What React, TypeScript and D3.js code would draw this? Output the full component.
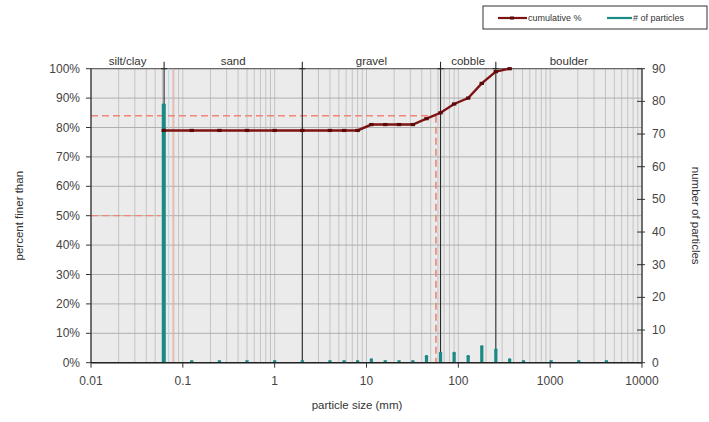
import React from 'react';
import * as d3 from 'd3';

const sieveSizes = [0.062, 0.125, 0.25, 0.5, 1, 2, 4, 5.7, 8, 11.3, 16, 22.6, 32, 45, 64, 90, 128, 180, 256, 362, 512, 1024, 2048, 4096];
const particleCounts = [79, 0, 0, 0, 0, 0, 0, 0, 0, 1, 0, 0, 0, 2, 3, 3, 2, 5, 4, 1, 0, 0, 0, 0];
const cumSizes = [0.062, 0.125, 0.25, 0.5, 1, 2, 4, 5.7, 8, 11.3, 16, 22.6, 32, 45, 64, 90, 128, 180, 256, 362];
const cumulativePct = [79, 79, 79, 79, 79, 79, 79, 79, 79, 81, 81, 81, 81, 83, 85, 88, 90, 95, 99, 100];
const classNames = ['silt/clay', 'sand', 'gravel', 'cobble', 'boulder'];
const classBounds = [0.01, 0.0625, 2, 64, 256, 10000];
const xTicks = [0.01, 0.1, 1, 10, 100, 1000, 10000];
const xTickLabels = ['0.01', '0.1', '1', '10', '100', '1000', '10000'];
const pctTicks = [0, 10, 20, 30, 40, 50, 60, 70, 80, 90, 100];
const countTicks = [0, 10, 20, 30, 40, 50, 60, 70, 80, 90];
const d50 = { size: 0.057, pct: 50 };
const d84 = { size: 57, pct: 84 };
const refLineSize = 0.078;
const blueLineSize = 0.07;

const W = 709, H = 422;
const L = 91, R = 642, T = 68.7, B = 362.7;
const FONT = '"Liberation Sans", Arial, sans-serif';

export default function App() {
  const x = d3.scaleLog().domain([0.01, 10000]).range([L, R]);
  const yP = d3.scaleLinear().domain([0, 100]).range([B, T]);
  const yC = d3.scaleLinear().domain([0, 90]).range([B, T]);

  const minor: number[] = [];
  for (let e = -2; e < 4; e++) {
    for (let m = 1; m <= 9; m++) minor.push(m * Math.pow(10, e));
  }
  minor.push(10000);

  const line = d3.line<number>().x((_, i) => x(cumSizes[i])).y(d => yP(d));
  const teal = '#1b8a84';
  const red = '#7d1313';
  const salmon = '#ef8676';

  return (
    <svg width={W} height={H} style={{ position: 'absolute', left: 0, top: 0, background: '#fff' }} fontFamily={FONT}>
      <rect x={L} y={T} width={R - L} height={B - T} fill="#ebebeb" />
      {minor.map((v, i) => (
        <line key={'vg' + i} x1={x(v)} x2={x(v)} y1={T} y2={B} stroke="#bababa" strokeWidth={0.8} />
      ))}
      {pctTicks.map(t => (
        <line key={'hg' + t} x1={L} x2={R} y1={yP(t)} y2={yP(t)} stroke="#a9a9a9" strokeWidth={0.9} />
      ))}
      <line x1={L} x2={R} y1={T} y2={T} stroke="#555" strokeWidth={1} />
      {/* reference lines */}
      <line x1={x(blueLineSize)} x2={x(blueLineSize)} y1={T} y2={B} stroke="#b8dcec" strokeWidth={1} />
      <line x1={x(refLineSize)} x2={x(refLineSize)} y1={T} y2={B} stroke="#f2a89c" strokeWidth={1} />
      <line x1={L} x2={x(d50.size)} y1={yP(d50.pct)} y2={yP(d50.pct)} stroke={salmon} strokeWidth={1.3} strokeDasharray="7,4" />
      <line x1={L} x2={x(d84.size)} y1={yP(d84.pct)} y2={yP(d84.pct)} stroke={salmon} strokeWidth={1.3} strokeDasharray="7,4" />
      <line x1={x(d84.size)} x2={x(d84.size)} y1={yP(d84.pct)} y2={B} stroke={salmon} strokeWidth={1.6} strokeDasharray="7,4" />
      {/* class boundaries */}
      {classBounds.slice(1, -1).map((b, i) => (
        <g key={'cb' + i}>
          <line x1={x(b)} x2={x(b)} y1={T - 7} y2={B} stroke="#2a2a2a" strokeWidth={1.1} />
          <line x1={x(b) - 3} x2={x(b) + 3} y1={T} y2={T} stroke="#2a2a2a" strokeWidth={1.1} />
        </g>
      ))}
      {classNames.map((n, i) => (
        <text key={'cn' + i} x={(x(classBounds[i]) + x(classBounds[i + 1])) / 2} y={65} textAnchor="middle" fontSize={11.5} fill="#333">{n}</text>
      ))}
      {/* particle counts */}
      {sieveSizes.map((s, i) => {
        const c = particleCounts[i];
        const top = c > 0 ? yC(c) : B - 2.5;
        const w = c > 20 ? 4 : 3.2;
        return (
          <g key={'pc' + i}>
            <rect x={x(s) - w / 2} y={top} width={w} height={B - top} fill={teal} />
            {c > 0 && <rect x={x(s) - w / 2} y={top - 1.2} width={w} height={2.4} rx={1.2} fill={teal} />}
          </g>
        );
      })}
      {/* cumulative curve */}
      <path d={line(cumulativePct) || ''} fill="none" stroke={red} strokeWidth={2.4} />
      {cumulativePct.map((p, i) => (
        <rect key={'cm' + i} x={x(cumSizes[i]) - 2.2} y={yP(p) - 1.6} width={4.4} height={3.2} fill="#5a0a0a" />
      ))}
      {/* axes */}
      <line x1={L} x2={L} y1={T} y2={B} stroke="#333" strokeWidth={1.3} />
      <line x1={R} x2={R} y1={T} y2={B} stroke="#333" strokeWidth={1.3} />
      <line x1={L} x2={R} y1={B} y2={B} stroke="#222" strokeWidth={1.6} />
      {pctTicks.map(t => (
        <g key={'lt' + t}>
          <line x1={L - 5} x2={L} y1={yP(t)} y2={yP(t)} stroke="#333" strokeWidth={1} />
          <text x={L - 11} y={yP(t) + 4} textAnchor="end" fontSize={12} fill="#444">{t + '%'}</text>
        </g>
      ))}
      {countTicks.map(t => (
        <g key={'rt' + t}>
          <line x1={R - 5} x2={R + 3} y1={yC(t)} y2={yC(t)} stroke="#333" strokeWidth={1} />
          <text x={R + 10} y={yC(t) + 4} textAnchor="start" fontSize={12} fill="#444">{t}</text>
        </g>
      ))}
      {xTicks.map((t, i) => (
        <g key={'xt' + i}>
          <line x1={x(t)} x2={x(t)} y1={B} y2={B + 5} stroke="#333" strokeWidth={1} />
          <text x={x(t)} y={B + 22} textAnchor="middle" fontSize={12} fill="#444">{xTickLabels[i]}</text>
        </g>
      ))}
      <text x={357} y={409} textAnchor="middle" fontSize={11.5} fill="#333">particle size (mm)</text>
      <text transform={`translate(23,${(T + B) / 2}) rotate(-90)`} textAnchor="middle" fontSize={11.5} fill="#333">percent finer than</text>
      <text transform={`translate(692,${(T + B) / 2}) rotate(90)`} textAnchor="middle" fontSize={11.5} fill="#333">number of particles</text>
      {/* legend */}
      <rect x={483} y={6} width={224} height={23} fill="#fff" stroke="#333" strokeWidth={1} />
      <line x1={498} x2={527} y1={18} y2={18} stroke={red} strokeWidth={2.2} />
      <rect x={510} y={16.5} width={4} height={3} fill="#5a0a0a" />
      <text x={528} y={21} fontSize={9} fill="#333">cumulative %</text>
      <line x1={607} x2={632} y1={18} y2={18} stroke={teal} strokeWidth={2.2} />
      <text x={633} y={21} fontSize={9} fill="#333"># of particles</text>
    </svg>
  );
}
